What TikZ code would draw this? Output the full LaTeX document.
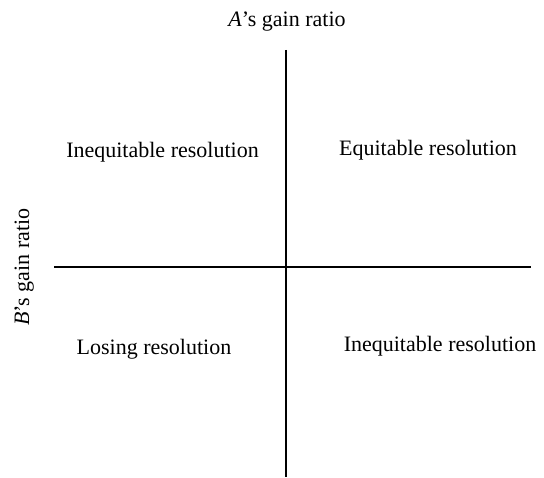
\documentclass[tikz,border=0pt]{standalone}
\usepackage{fontspec}
\setmainfont{Liberation Serif}
\begin{document}
\begin{tikzpicture}[x=1pt,y=-1pt,
  lbl/.style={font=\fontsize{22}{24}\selectfont, inner sep=0pt, anchor=base},
  axis/.style={line width=1.6pt, draw=black}]
\useasboundingbox (0,0) rectangle (544,478);
\coordinate (vtop) at (286,50);
\coordinate (vbot) at (286,477);
\coordinate (hleft) at (54,267);
\coordinate (hright) at (531,267);
\draw[axis] (vtop) -- (vbot);
\draw[axis] (hleft) -- (hright);
\node[lbl] (ttl) at (287,27) {\textit{A}’s gain ratio};
\node[lbl, rotate=90] (ylbl) at (29,267) {\textit{B}’s gain ratio};
\node[lbl] (q2) at (162.5,158) {Inequitable resolution};
\node[lbl] (q1) at (428,156) {Equitable resolution};
\node[lbl] (q3) at (154,355) {Losing resolution};
\node[lbl] (q4) at (440,352) {Inequitable resolution};
\end{tikzpicture}
\end{document}
